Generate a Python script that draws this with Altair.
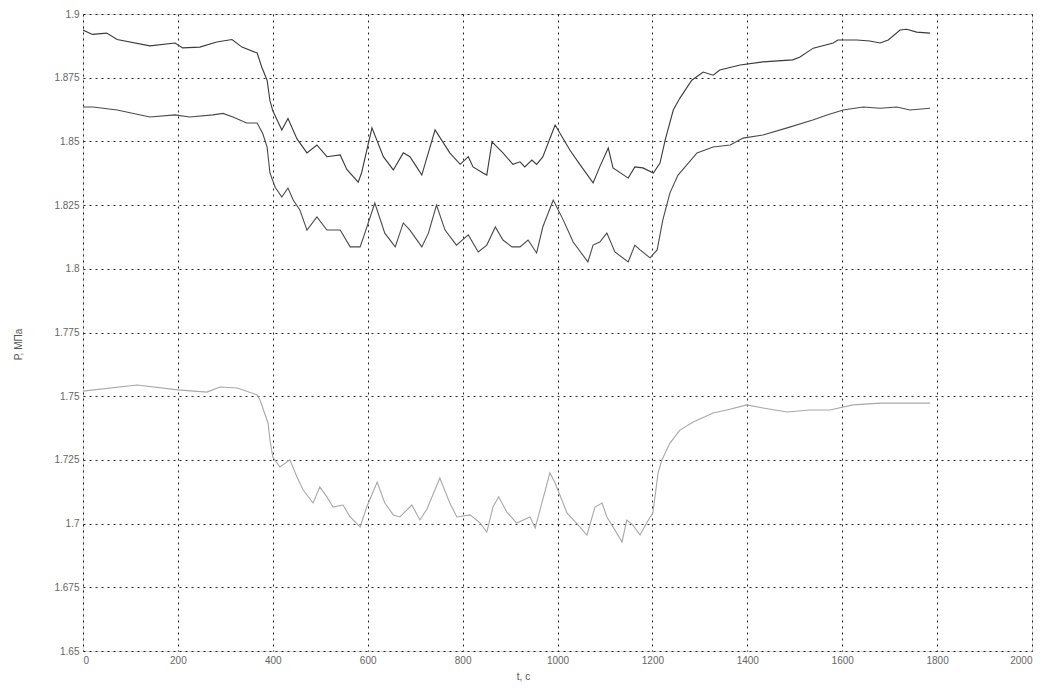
import altair as alt
import pandas as pd

# Series 1 (upper curve)
t1 = [0, 20, 50, 72, 141, 194, 210, 246, 282, 314, 335, 367, 377, 388, 394, 400, 419, 432, 451, 472,
      493, 514, 542, 556, 580, 587, 609, 633, 654, 675, 689, 703, 714, 742, 773, 795, 812, 822, 843,
      851, 862, 885, 906, 921, 931, 946, 956, 969, 995, 1026, 1047, 1075, 1089, 1107, 1117, 1149,
      1163, 1180, 1202, 1216, 1227, 1244, 1258, 1283, 1307, 1328, 1342, 1385, 1433, 1496, 1511,
      1539, 1581, 1591, 1631, 1658, 1680, 1697, 1722, 1736, 1757, 1785]
p1 = [1.8937, 1.892, 1.8925, 1.890, 1.8875, 1.8886, 1.8867, 1.887, 1.889, 1.890, 1.887, 1.8847,
      1.879, 1.874, 1.866, 1.862, 1.8545, 1.859, 1.851, 1.8455, 1.8486, 1.844, 1.8447, 1.839,
      1.834, 1.8376, 1.8553, 1.844, 1.8388, 1.8455, 1.844, 1.840, 1.8368, 1.8545, 1.8455, 1.841,
      1.844, 1.840, 1.8376, 1.8368, 1.8498, 1.8455, 1.841, 1.842, 1.840, 1.8427, 1.841, 1.8439,
      1.8564, 1.8466, 1.841, 1.8337, 1.840, 1.8474, 1.8396, 1.8356, 1.840, 1.8396, 1.8376, 1.8415,
      1.8506, 1.8623, 1.867, 1.874, 1.8772, 1.876, 1.878, 1.880, 1.8812, 1.882, 1.8831, 1.8866,
      1.8886, 1.8898, 1.8898, 1.8894, 1.8886, 1.8898, 1.8937, 1.894, 1.8929, 1.8925]

# Series 2 (middle curve)
t2 = [0, 21, 72, 141, 194, 225, 274, 295, 316, 345, 367, 379, 388, 394, 405, 419, 432, 443, 457,
      472, 493, 514, 542, 563, 584, 594, 615, 636, 658, 675, 689, 714, 728, 745, 763, 787, 812, 833,
      851, 869, 885, 904, 921, 938, 956, 969, 991, 1012, 1033, 1064, 1075, 1089, 1104, 1121, 1149,
      1163, 1174, 1195, 1210, 1222, 1237, 1254, 1269, 1294, 1328, 1364, 1391, 1433, 1484, 1538,
      1568, 1602, 1644, 1680, 1715, 1743, 1785]
p2 = [1.8635, 1.8635, 1.8623, 1.8596, 1.8604, 1.8596, 1.8604, 1.861, 1.8596, 1.8572, 1.8572,
      1.853, 1.8478, 1.8376, 1.832, 1.8282, 1.8317, 1.827, 1.8231, 1.8152, 1.8204, 1.8152, 1.8152,
      1.8086, 1.8086, 1.814, 1.8258, 1.814, 1.8086, 1.818, 1.8152, 1.8086, 1.814, 1.825, 1.8152,
      1.8093, 1.8133, 1.8066, 1.8093, 1.8164, 1.8113, 1.8086, 1.8086, 1.8113, 1.8062, 1.8164,
      1.827, 1.8192, 1.8105, 1.8027, 1.8093, 1.8105, 1.814, 1.8066, 1.8027, 1.8093, 1.8074,
      1.8043, 1.8074, 1.8192, 1.8298, 1.8368, 1.840, 1.8455, 1.8478, 1.8486, 1.8513, 1.8525,
      1.8553, 1.8584, 1.8604, 1.8623, 1.8635, 1.863, 1.8635, 1.8623, 1.863]

# Series 3 (lower curve)
t3 = [0, 114, 200, 261, 289, 325, 367, 373, 390, 394, 400, 415, 436, 451, 464, 485, 499, 514,
      527, 548, 563, 584, 598, 620, 636, 654, 668, 693, 710, 725, 752, 773, 788, 816, 837, 851,
      864, 876, 893, 914, 942, 953, 963, 984, 995, 1020, 1047, 1062, 1079, 1094, 1104, 1117, 1136,
      1146, 1159, 1174, 1189, 1201, 1212, 1220, 1237, 1258, 1286, 1328, 1357, 1399, 1433, 1484,
      1532, 1574, 1623, 1680, 1722, 1785]
p3 = [1.752, 1.7544, 1.7525, 1.7516, 1.7536, 1.7532, 1.7505, 1.7485, 1.7395, 1.7328, 1.7261,
      1.7222, 1.725, 1.7183, 1.7132, 1.7081, 1.7144, 1.7105, 1.7065, 1.7073, 1.7026, 1.6987,
      1.7065, 1.7163, 1.7081, 1.7034, 1.7026, 1.7073, 1.7014, 1.7057, 1.7179, 1.7081, 1.7026,
      1.7034, 1.7002, 1.6967, 1.7065, 1.7105, 1.7046, 1.7002, 1.7026, 1.6983, 1.7053, 1.7199,
      1.7159, 1.7042, 1.6987, 1.6955, 1.7065, 1.7081, 1.7026, 1.6987, 1.6928, 1.7014, 1.6994,
      1.6955, 1.7006, 1.7042, 1.7199, 1.725, 1.7316, 1.7367, 1.7399, 1.7434, 1.7446, 1.7466,
      1.7454, 1.7438, 1.7446, 1.7446, 1.7466, 1.7473, 1.7473, 1.7473]

x_ticks = [0, 200, 400, 600, 800, 1000, 1200, 1400, 1600, 1800, 2000]
y_ticks = [1.65, 1.675, 1.7, 1.725, 1.75, 1.775, 1.8, 1.825, 1.85, 1.875, 1.9]
series_names = ["s1", "s2", "s3"]
series_colors = ["#3a3a3a", "#4a4a4a", "#a8a8a8"]

frames = []
for name, t, p in zip(series_names, [t1, t2, t3], [p1, p2, p3]):
    frames.append(pd.DataFrame({"t": t, "P": p, "series": name}))
df = pd.concat(frames, ignore_index=True)

grid_style = dict(grid=True, gridColor="#000000", gridDash=[2, 4], gridWidth=1, gridOpacity=0.85,
                  domain=False, ticks=False, labelPadding=4,
                  labelFont="Liberation Sans", labelFontSize=10, labelColor="#666666",
                  titleFont="Liberation Sans", titleFontSize=10, titleColor="#555555",
                  titleFontWeight="normal")

chart = alt.Chart(df).mark_line(strokeWidth=1.1, clip=True).encode(
    x=alt.X("t:Q", scale=alt.Scale(domain=[0, 2000], nice=False),
            axis=alt.Axis(values=x_ticks, title="t, с", format="d",
                          titleX=440, titleY=20, **grid_style)),
    y=alt.Y("P:Q", scale=alt.Scale(domain=[1.65, 1.9], nice=False, zero=False),
            axis=alt.Axis(values=y_ticks, title="Р, МПа", format=".4~f",
                          titleX=-60, titleY=330, **grid_style)),
    color=alt.Color("series:N", scale=alt.Scale(domain=series_names, range=series_colors), legend=None),
    detail="series:N",
).properties(
    width=949, height=637,
    autosize=alt.AutoSizeParams(type="none"),
    padding={"left": 75, "top": 6, "right": 13, "bottom": 32},
).configure_view(
    stroke="#000", strokeWidth=1
).configure(background="white")

chart.save("out.html", embed_options={"renderer": "svg", "actions": False})
